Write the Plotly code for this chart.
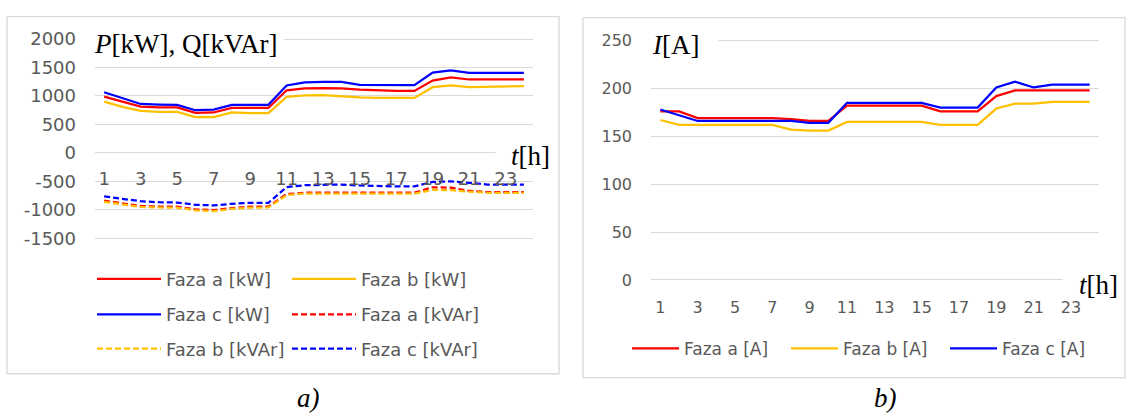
import plotly.graph_objects as go

# ---- data -------------------------------------------------------------
hours = list(range(1, 25))
hour_ticks = list(range(1, 24, 2))

# active power per phase [kW]
p_a = [990, 905, 815, 800, 800, 705, 710, 790, 790, 790, 1100, 1135,
       1140, 1135, 1110, 1095, 1090, 1090, 1270, 1325, 1290, 1290, 1290, 1290]
p_b = [900, 810, 740, 720, 720, 630, 630, 710, 700, 700, 985, 1010,
       1015, 990, 975, 965, 965, 965, 1155, 1185, 1155, 1165, 1170, 1175]
p_c = [1065, 965, 860, 850, 845, 750, 760, 845, 845, 845, 1185, 1240,
       1250, 1250, 1195, 1190, 1190, 1190, 1410, 1450, 1405, 1405, 1405, 1405]

# reactive power per phase [kVAr]
q_a = [-840, -890, -935, -945, -945, -995, -1005, -970, -945, -945, -725, -700,
       -698, -698, -698, -700, -700, -700, -605, -610, -670, -688, -692, -692]
q_b = [-860, -910, -950, -960, -962, -1010, -1025, -985, -962, -960, -743, -715,
       -715, -715, -715, -718, -718, -718, -650, -655, -682, -700, -704, -704]
q_c = [-766, -810, -850, -868, -873, -912, -924, -895, -878, -878, -602, -568,
       -556, -556, -573, -585, -590, -590, -511, -500, -534, -556, -560, -560]

# phase currents [A]
i_a = [176, 176, 169, 169, 169, 169, 169, 168, 166, 166, 182, 182,
       182, 182, 182, 176, 176, 176, 192, 198, 198, 198, 198, 198]
i_b = [167, 162, 162, 162, 162, 162, 162, 157, 156, 156, 165, 165,
       165, 165, 165, 162, 162, 162, 179, 184, 184, 186, 186, 186]
i_c = [178, 172, 166, 166, 166, 166, 166, 166, 164, 164, 185, 185,
       185, 185, 185, 180, 180, 180, 201, 207, 201, 204, 204, 204]

pq_ticks = [-1500, -1000, -500, 0, 500, 1000, 1500, 2000]
pq_tick_text = ["-1500", "-1000", "-500", "0", "500", "1000", "1500", "2000"]
i_ticks = [0, 50, 100, 150, 200, 250]
i_tick_text = ["0", "50", "100", "150", "200", "250"]

# ---- layout helpers ---------------------------------------------------
W, H = 1129, 420
def fx(px):
    return px / W
def fy(py):
    return 1 - py / H

RED, ORANGE, BLUE = "#FF0000", "#FFC000", "#0000FF"
GRID = "#D9D9D9"
GREY = "#595959"
L_TICK_FONT = dict(family="DejaVu Sans", size=18, color=GREY)
R_TICK_FONT = dict(family="DejaVu Sans", size=16, color=GREY)
SERIF = "Liberation Serif"
LW = 2.25
DASH = "6px,3px"

# plot-area pixel boxes
L_X0, L_X1 = 95, 533
L_Y_TOP, L_Y_BOT = 29.3, 240.2
L_RANGE = [-1520, 2020]
R_X0, R_X1 = 651, 1099
R_Y_TOP, R_Y_BOT = 30.5, 284.2
R_RANGE = [-1.5, 251.5]

fig = go.Figure()

def add_line(x, y, name, color, dash, xa, ya, legend):
    fig.add_trace(go.Scatter(
        x=x, y=y, name=name, mode="lines",
        line=dict(color=color, width=LW, dash=dash),
        xaxis=xa, yaxis=ya, legend=legend, hoverinfo="skip"))

add_line(hours, p_a, "Faza a [kW]", RED, "solid", "x", "y", "legend")
add_line(hours, p_b, "Faza b [kW]", ORANGE, "solid", "x", "y", "legend")
add_line(hours, p_c, "Faza c [kW]", BLUE, "solid", "x", "y", "legend2")
add_line(hours, q_a, "Faza a [kVAr]", RED, DASH, "x", "y", "legend2")
add_line(hours, q_b, "Faza b [kVAr]", ORANGE, DASH, "x", "y", "legend3")
add_line(hours, q_c, "Faza c [kVAr]", BLUE, DASH, "x", "y", "legend3")

add_line(hours, i_a, "Faza a [A]", RED, "solid", "x2", "y2", "legend4")
add_line(hours, i_b, "Faza b [A]", ORANGE, "solid", "x2", "y2", "legend4")
add_line(hours, i_c, "Faza c [A]", BLUE, "solid", "x2", "y2", "legend4")

# x axis of the left chart sits on the zero line
l_dom = [fy(L_Y_BOT), fy(L_Y_TOP)]
zero_pos = l_dom[0] + (0 - L_RANGE[0]) / (L_RANGE[1] - L_RANGE[0]) * (l_dom[1] - l_dom[0])

def x_axis(font, standoff):
    return dict(range=[0.5, 24.5], tickvals=hour_ticks, ticktext=[str(h) for h in hour_ticks],
                showgrid=False, zeroline=False, showline=False, ticks="",
                tickfont=font, ticklabelstandoff=standoff, fixedrange=True)

def y_axis(font):
    return dict(showgrid=True, gridcolor=GRID, gridwidth=1, zeroline=False,
                showline=False, ticks="", tickfont=font,
                ticklabelstandoff=18, fixedrange=True)

fig.update_layout(
    width=W, height=H, autosize=False,
    margin=dict(l=0, r=0, t=0, b=0),
    paper_bgcolor="white", plot_bgcolor="white",
    xaxis=dict(domain=[fx(L_X0), fx(L_X1)], anchor="free", position=zero_pos,
               **x_axis(L_TICK_FONT, 13)),
    yaxis=dict(domain=l_dom, range=L_RANGE, tickvals=pq_ticks, ticktext=pq_tick_text,
               anchor="x", **y_axis(L_TICK_FONT)),
    xaxis2=dict(domain=[fx(R_X0), fx(R_X1)], anchor="y2", **x_axis(R_TICK_FONT, 15)),
    yaxis2=dict(domain=[fy(R_Y_BOT), fy(R_Y_TOP)], range=R_RANGE, tickvals=i_ticks,
                ticktext=i_tick_text, anchor="x2", **y_axis(R_TICK_FONT)),
    showlegend=True,
)

def legend_row(x_px, y_px, itemwidth, entrywidth, size):
    return dict(orientation="h", x=fx(x_px), xanchor="left", y=fy(y_px), yanchor="middle",
                xref="paper", yref="paper",
                font=dict(family="DejaVu Sans", size=size, color=GREY),
                bgcolor="rgba(0,0,0,0)",
                borderwidth=0, itemwidth=itemwidth, entrywidth=entrywidth,
                entrywidthmode="pixels", tracegroupgap=0, itemclick=False,
                itemdoubleclick=False, traceorder="normal")

fig.update_layout(
    legend=legend_row(92, 282, 64, 116, 18),
    legend2=legend_row(92, 319, 64, 116, 18),
    legend3=legend_row(92, 355, 64, 116, 18),
    legend4=legend_row(627, 355, 47, 97, 17),
)

# chart frames
for x0, y0, x1, y1 in [(7, 7, 559, 381), (583, 8, 1125, 385)]:
    fig.add_shape(type="rect", xref="paper", yref="paper",
                  x0=fx(x0), y0=fy(y1), x1=fx(x1), y1=fy(y0),
                  line=dict(color=GRID, width=1.3), fillcolor="rgba(0,0,0,0)", layer="below")

def label(text, x_px, y_px, width=None, align="left", xanchor="left"):
    fig.add_annotation(text=text, xref="paper", yref="paper", x=fx(x_px), y=fy(y_px),
                       xanchor=xanchor, yanchor="middle", showarrow=False,
                       font=dict(family=SERIF, size=27, color="black"),
                       bgcolor="white", borderpad=0, width=width, align=align)

label("<i>P</i>[kW], Q[kVAr]", 93, 36, width=190)
label("<i>I</i>[A]", 651, 37, width=66)
label("<i>t</i>[h]", 495, 153, width=54, align="right")
label("<i>t</i>[h]", 1062, 288, width=55, align="right")
label("<i>a)</i>", 308, 406, xanchor="center")
label("<i>b)</i>", 885, 406, xanchor="center")

fig.write_html("out.html")
